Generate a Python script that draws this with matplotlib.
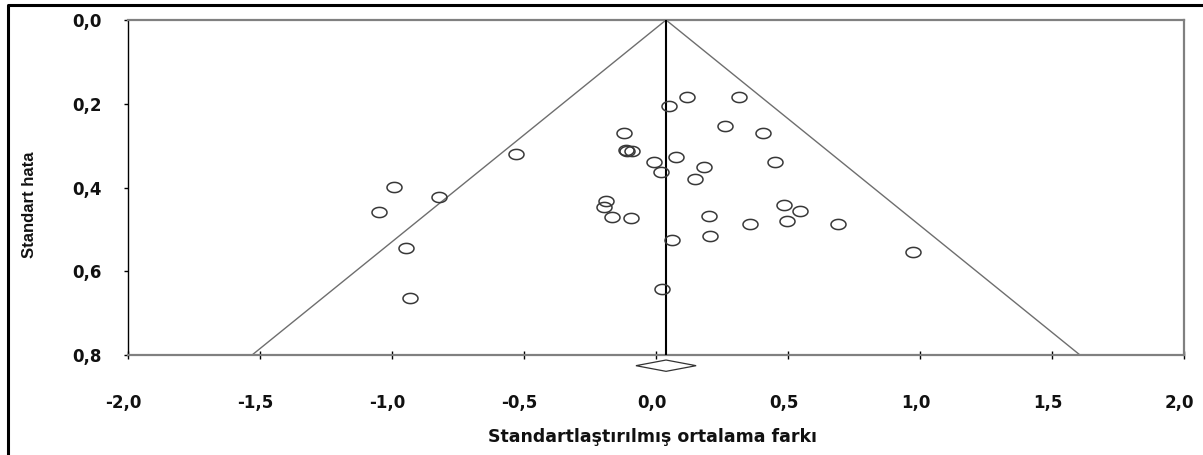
import matplotlib
matplotlib.use("Agg")
import matplotlib.pyplot as plt
from matplotlib.path import Path
from matplotlib.lines import Line2D
from matplotlib.transforms import ScaledTranslation
from matplotlib import font_manager
import numpy as np

# ---- data ----
effect = [0.119, 0.313, 0.050, 0.263, 0.404, -0.122, -0.530, -0.114, -0.108, -0.091,
          -0.006, 0.076, 0.019, 0.180, 0.452, 0.149, -0.992, -0.823, -1.048, -0.947,
          -0.933, -0.191, -0.197, -0.168, -0.095, 0.201, 0.205, 0.060, 0.023, 0.356,
          0.485, 0.547, 0.496, 0.689, 0.972]
std_err = [0.183, 0.185, 0.205, 0.253, 0.270, 0.269, 0.320, 0.311, 0.313, 0.314,
           0.339, 0.327, 0.364, 0.352, 0.340, 0.380, 0.399, 0.423, 0.459, 0.544,
           0.663, 0.433, 0.446, 0.470, 0.474, 0.467, 0.516, 0.525, 0.643, 0.488,
           0.442, 0.455, 0.480, 0.487, 0.555]
pooled = 0.038
ci_low = -0.076
ci_high = 0.152
se_max = 0.8
z_crit = 1.96

xticks = [-2.0, -1.5, -1.0, -0.5, 0.0, 0.5, 1.0, 1.5, 2.0]
xticklabels = ["-2,0", "-1,5", "-1,0", "-0,5", "0,0", "0,5", "1,0", "1,5", "2,0"]
yticks = [0.0, 0.2, 0.4, 0.6, 0.8]
yticklabels = ["0,0", "0,2", "0,4", "0,6", "0,8"]

xlabel = "Standartlaştırılmış ortalama farkı"
ylabel = "Standart hata"

# ---- fonts ----
names = {f.name for f in font_manager.fontManager.ttflist}
narrow = "Liberation Sans Narrow" if "Liberation Sans Narrow" in names else "Liberation Sans"

W, H, DPI = 1203, 455, 100
fig = plt.figure(figsize=(W / DPI, H / DPI), dpi=DPI)
fig.patch.set_facecolor("white")

L, R, T, B = 128, 1184, 20, 355
ax = fig.add_axes([L / W, 1 - B / H, (R - L) / W, (B - T) / H])

# funnel
ax.plot([pooled - z_crit * se_max, pooled, pooled + z_crit * se_max], [se_max, 0, se_max],
        color="#6e6e6e", lw=1.0, zorder=2)
# pooled line
ax.plot([pooled, pooled], [0, se_max], color="black", lw=1.5, zorder=3)

# ellipse marker (image is horizontally stretched)
t = np.linspace(0, 2 * np.pi, 60)
ell = Path(np.column_stack([np.cos(t), 0.68 * np.sin(t)]), closed=True)
ax.plot(effect, std_err, linestyle="none", marker=ell, markersize=10.8,
        markerfacecolor="none", markeredgecolor="#383838", markeredgewidth=1.1, zorder=4)

# diamond below axis
dy = 0.0255
dh = 0.0135
yd = se_max + dy
ax.fill([ci_low, pooled, ci_high, pooled], [yd, yd - dh, yd, yd + dh],
        facecolor="white", edgecolor="#333333", lw=0.9, clip_on=False, zorder=5)

ax.set_xlim(-2.0, 2.0)
ax.set_ylim(se_max, 0.0)

ax.set_xticks(xticks)
ax.set_xticklabels(xticklabels)
ax.set_yticks(yticks)
ax.set_yticklabels(yticklabels)

ax.tick_params(axis="x", direction="inout", length=6, width=1, color="black",
               pad=25, labelsize=12, bottom=True, top=False)
ax.tick_params(axis="y", direction="out", length=3, width=1, color="black",
               pad=16, labelsize=12, left=True, right=False)
for lab in ax.get_xticklabels() + ax.get_yticklabels():
    lab.set_fontfamily("DejaVu Sans")
    lab.set_fontweight("bold")
    lab.set_color("#111111")
for lab in ax.get_xticklabels():
    lab.set_transform(lab.get_transform() + ScaledTranslation(-4.5 / DPI, 0, fig.dpi_scale_trans))

for side in ["top", "bottom", "right"]:
    ax.spines[side].set_color("#808080")
    ax.spines[side].set_linewidth(1.6)
ax.spines["left"].set_color("black")
ax.spines["left"].set_linewidth(1.0)

# axis titles
fig.text(652 / W, 1 - 437 / H, xlabel, ha="center", va="center",
         fontsize=12.5, fontweight="bold", family="DejaVu Sans", color="#111111")
fig.text(30 / W, 1 - 205 / H, ylabel, ha="center", va="center", rotation=90,
         fontsize=12, fontweight="bold", family=narrow, color="#111111")

# outer frame (left and top edges visible)
fig.add_artist(Line2D([8 / W, 8 / W, 1.0], [0.0, 1 - 5 / H, 1 - 5 / H],
                      color="black", lw=2.2, transform=fig.transFigure))

fig.savefig("out.png", dpi=DPI)
